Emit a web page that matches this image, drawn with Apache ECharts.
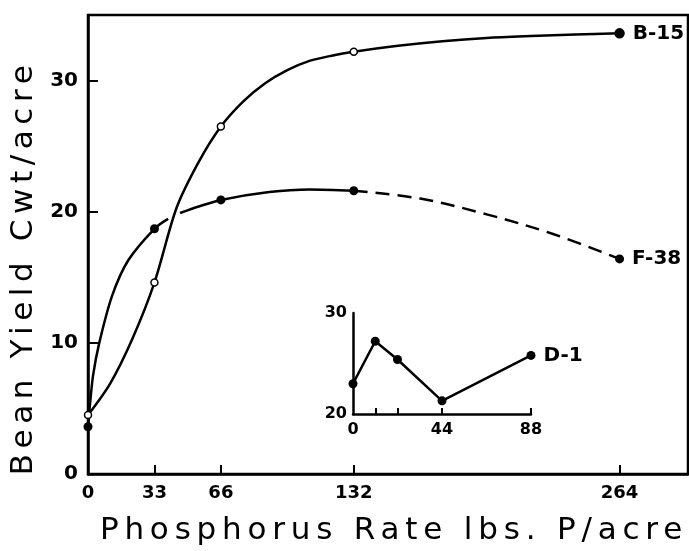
<!DOCTYPE html>
<html>
<head>
<meta charset="utf-8">
<script src="https://cdn.jsdelivr.net/npm/echarts@6/dist/echarts.min.js"></script>
<style>
html, body { margin: 0; padding: 0; background: #fff; }
#main { width: 689px; height: 551px; }
</style>
</head>
<body>
<div id="main"></div>
<script>
// measured points
var rates = [0, 33, 66, 132, 264];
var b15Yield = [4.5, 14.6, 26.5, 32.2, 33.6];
var f38Yield = [3.6, 18.7, 20.9, 21.6, 16.4];

// curve shapes
var b15CurveX = [0, 11, 22, 33, 44, 55, 66, 77, 88, 99, 110, 121, 132, 154, 176, 198, 220, 242, 264];
var b15CurveY = [4.5, 6.9, 10.3, 14.6, 20.3, 23.8, 26.5, 28.4, 29.8, 30.8, 31.5, 31.9, 32.2, 32.65, 33.0, 33.25, 33.4, 33.52, 33.6];
var f38CurveX = [0, 0.8, 2.5, 5.6, 12, 20, 33, 39.8, 42, 45.7, 55, 66, 90, 110, 132];
var f38CurveY = [3.6, 5.0, 7.5, 10, 13.6, 16.3, 18.7, 19.45, null, 19.9, 20.4, 20.9, 21.5, 21.7, 21.6];
var f38DashX = [132, 165, 198, 231, 264];
var f38DashY = [21.6, 21.0, 19.8, 18.3, 16.4];

// inset
var d1Rates = [0, 11, 22, 44, 88];
var d1Yield = [23.0, 27.2, 25.4, 21.3, 25.8];

var xTicks = [33, 66, 132, 264];
var xLabels = [0, 33, 66, 132, 264];
var yTicks = [10, 20, 30];
var yLabels = [0, 10, 20, 30];
var insetXTicks = [11, 22, 44, 88];
var insetXLabels = [0, 44, 88];
var insetYLabels = [20, 30];

var xTitle = 'Phosphorus Rate lbs. P/acre';
var yTitle = 'Bean Yield Cwt/acre';
var font = 'DejaVu Sans';

// the hand lettering of the axis titles is widely spaced
var spacedTitles = {};
spacedTitles[xTitle] = '5.8px';
spacedTitles[yTitle] = '5.6px';
var plainFillText = CanvasRenderingContext2D.prototype.fillText;
CanvasRenderingContext2D.prototype.fillText = function (text) {
    this.letterSpacing = spacedTitles[text] || '0px';
    return plainFillText.apply(this, arguments);
};

function pairs(xs, ys) {
    return xs.map(function (x, i) { return [x, ys[i] == null ? '-' : ys[i]]; });
}

function endLabel(text) {
    return {
        show: true, formatter: text, position: 'right', distance: 8,
        color: '#000', fontFamily: font, fontWeight: 'bold', fontSize: 20
    };
}

var myChart = echarts.init(document.getElementById('main'));

var b15Points = rates.map(function (x, i) {
    var p = { value: [x, b15Yield[i]] };
    if (i === rates.length - 1) {
        p.symbolSize = 9;
        p.itemStyle = { color: '#000' };
        p.label = endLabel('B-15');
    }
    return p;
});
var f38Points = rates.map(function (x, i) {
    var p = { value: [x, f38Yield[i]] };
    if (i === rates.length - 1) p.label = endLabel('F-38');
    return p;
});
var d1Points = d1Rates.map(function (x, i) {
    var p = { value: [x, d1Yield[i]] };
    if (i === d1Rates.length - 1) p.label = endLabel('D-1');
    return p;
});

option = {
    backgroundColor: '#fff',
    animation: false,
    textStyle: { fontFamily: font, color: '#000' },
    grid: [
        { left: 88, top: 15, right: 1, bottom: 70, show: true, borderColor: '#000', borderWidth: 2.5 },
        { left: 353, top: 313, width: 178, height: 101 }
    ],
    xAxis: [
        {
            type: 'value', gridIndex: 0, min: 0, max: 298,
            name: xTitle, nameLocation: 'middle', nameGap: 41,
            nameTextStyle: { fontSize: 31, color: '#000', fontFamily: font, padding: [0, 0, 0, 12] },
            axisLine: { lineStyle: { color: '#000', width: 2.5 } },
            axisTick: { inside: true, length: 9, customValues: xTicks, lineStyle: { color: '#000', width: 2 } },
            axisLabel: { customValues: xLabels, margin: 10, fontSize: 18, fontWeight: 'bold', color: '#000' },
            splitLine: { show: false }
        },
        {
            type: 'value', gridIndex: 1, min: 0, max: 88,
            axisLine: { lineStyle: { color: '#000', width: 2.5 } },
            axisTick: { inside: true, length: 6, customValues: insetXTicks, lineStyle: { color: '#000', width: 2 } },
            axisLabel: { customValues: insetXLabels, margin: 8, fontSize: 16, fontWeight: 'bold', color: '#000' },
            splitLine: { show: false }
        }
    ],
    yAxis: [
        {
            type: 'value', gridIndex: 0, min: 0, max: 35,
            name: yTitle, nameLocation: 'middle', nameGap: 46,
            nameTextStyle: { fontSize: 31, color: '#000', fontFamily: font, padding: [0, 46, 0, 0] },
            axisLine: { show: true, lineStyle: { color: '#000', width: 2.5 } },
            axisTick: { show: true, inside: true, length: 10, customValues: yTicks, lineStyle: { color: '#000', width: 2 } },
            axisLabel: { customValues: yLabels, margin: 10, fontSize: 20, fontWeight: 'bold', color: '#000' },
            splitLine: { show: false }
        },
        {
            type: 'value', gridIndex: 1, min: 20, max: 30,
            axisLine: { show: true, lineStyle: { color: '#000', width: 2.5 } },
            axisTick: { show: false },
            axisLabel: { customValues: insetYLabels, margin: 6, fontSize: 16, fontWeight: 'bold', color: '#000' },
            splitLine: { show: false }
        }
    ],
    series: [
        {
            name: 'B-15 curve', type: 'line', xAxisIndex: 0, yAxisIndex: 0,
            data: pairs(b15CurveX, b15CurveY), smooth: 0.3, showSymbol: false,
            lineStyle: { color: '#000', width: 2.5 }
        },
        {
            name: 'F-38 curve', type: 'line', xAxisIndex: 0, yAxisIndex: 0,
            data: pairs(f38CurveX, f38CurveY), smooth: 0.3, showSymbol: false, connectNulls: false,
            lineStyle: { color: '#000', width: 2.5 }
        },
        {
            name: 'F-38 dashed', type: 'line', xAxisIndex: 0, yAxisIndex: 0,
            data: pairs(f38DashX, f38DashY), smooth: 0.35, showSymbol: false,
            lineStyle: { color: '#000', width: 2.5, type: [14, 8] }
        },
        {
            name: 'B-15', type: 'scatter', xAxisIndex: 0, yAxisIndex: 0, z: 5,
            data: b15Points, symbol: 'circle', symbolSize: 7,
            itemStyle: { color: '#fff', borderColor: '#000', borderWidth: 1.5, opacity: 1 }
        },
        {
            name: 'F-38', type: 'scatter', xAxisIndex: 0, yAxisIndex: 0, z: 5,
            data: f38Points, symbol: 'circle', symbolSize: 9,
            itemStyle: { color: '#000', opacity: 1 }
        },
        {
            name: 'D-1', type: 'line', xAxisIndex: 1, yAxisIndex: 1,
            data: d1Points, symbol: 'circle', symbolSize: 9, showAllSymbol: true,
            itemStyle: { color: '#000' },
            lineStyle: { color: '#000', width: 2.5 }
        }
    ]
};
myChart.setOption(option);
</script>
</body>
</html>
